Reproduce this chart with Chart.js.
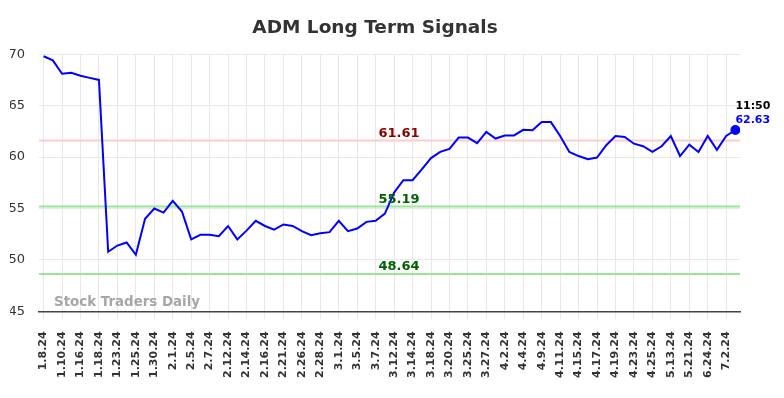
<!DOCTYPE html>
<html>
<head>
<meta charset="utf-8">
<script src="https://cdn.jsdelivr.net/npm/chart.js@4/dist/chart.umd.min.js"></script>
<style>
    html, body { margin: 0; padding: 0; background: #fff; }
    #wrap { width: 784px; height: 398px; }
</style>
</head>
<body>
<div id="wrap"><canvas id="chart"></canvas></div>
<script>
// Tick labels, one for every second point
const tickLabels = [
    '1.8.24', '1.10.24', '1.16.24', '1.18.24', '1.23.24', '1.25.24', '1.30.24',
    '2.1.24', '2.5.24', '2.7.24', '2.12.24', '2.14.24', '2.16.24', '2.21.24',
    '2.26.24', '2.28.24', '3.1.24', '3.5.24', '3.7.24', '3.12.24', '3.14.24',
    '3.18.24', '3.20.24', '3.25.24', '3.27.24', '4.2.24', '4.4.24', '4.9.24',
    '4.11.24', '4.15.24', '4.17.24', '4.19.24', '4.23.24', '4.25.24', '5.13.24',
    '5.21.24', '6.24.24', '7.2.24',
];

// Closing prices
const prices = [
    69.8, 69.4, 68.1, 68.2, 67.9, 67.7, 67.5, 50.8, 51.4, 51.7,
    50.5, 54.0, 55.0, 54.6, 55.75, 54.7, 52.0, 52.45, 52.45, 52.3,
    53.3, 52.0, 52.85, 53.8, 53.3, 52.95, 53.45, 53.3, 52.8, 52.4,
    52.6, 52.7, 53.8, 52.8, 53.05, 53.7, 53.8, 54.5, 56.55, 57.75,
    57.75, 58.8, 59.9, 60.5, 60.8, 61.9, 61.9, 61.35, 62.45, 61.8,
    62.1, 62.1, 62.65, 62.6, 63.4, 63.4, 62.05, 60.5, 60.1, 59.8,
    59.95, 61.15, 62.05, 61.95, 61.3, 61.05, 60.5, 61.05, 62.05, 60.1,
    61.2, 60.5, 62.05, 60.7, 62.05, 62.63,
];

// Signal levels
const levelValues = [61.61, 55.19, 48.64];
const levelColors = ['#ffcccc', '#99e699', '#99e699'];
const levelTextColors = ['#8b0000', '#006400', '#006400'];

const lastTime = '11:50';

const points = prices.map((v, i) => ({x: i, y: v}));
const lastIndex = prices.length - 1;

const pluginSignals = {
    id: 'signals',
    beforeDatasetsDraw: function(chart) {
        'use strict';
        const ctx = chart.ctx;
        const area = chart.chartArea;
        const y = chart.scales.y;
        ctx.save();
        // watermark
        ctx.font = 'bold 13.4px "DejaVu Sans"';
        ctx.fillStyle = '#a6a6a6';
        ctx.textAlign = 'left';
        ctx.textBaseline = 'middle';
        ctx.fillText('Stock Traders Daily', 54, area.bottom - 9);
        // level lines
        ctx.lineWidth = 2;
        for (let i = 0; i < levelValues.length; ++i) {
            const py = y.getPixelForValue(levelValues[i]);
            ctx.strokeStyle = levelColors[i];
            ctx.beginPath();
            ctx.moveTo(area.left, py);
            ctx.lineTo(area.right, py);
            ctx.stroke();
        }
        ctx.restore();
    },
    afterDatasetsDraw: function(chart) {
        'use strict';
        const ctx = chart.ctx;
        const y = chart.scales.y;
        const x = chart.scales.x;
        ctx.save();
        ctx.font = 'bold 13px "DejaVu Sans"';
        ctx.textAlign = 'center';
        ctx.textBaseline = 'middle';
        for (let i = 0; i < levelValues.length; ++i) {
            const py = y.getPixelForValue(levelValues[i]);
            ctx.fillStyle = levelTextColors[i];
            ctx.fillText(levelValues[i].toFixed(2), 399, py - 7);
        }
        // last value
        const lx = x.getPixelForValue(lastIndex);
        const ly = y.getPixelForValue(prices[lastIndex]);
        ctx.font = 'bold 11px "DejaVu Sans"';
        ctx.textAlign = 'left';
        ctx.fillStyle = '#000';
        ctx.fillText(lastTime, lx, ly - 24);
        ctx.fillStyle = '#0000ff';
        ctx.fillText(prices[lastIndex].toFixed(2), lx, ly - 10);
        ctx.restore();
    },
};

new Chart(document.getElementById('chart'), {
    type: 'line',
    data: {
        datasets: [{
            data: points,
            borderColor: '#0000ff',
            backgroundColor: '#0000ff',
            borderWidth: 2,
            tension: 0,
            pointRadius: (c) => (c.dataIndex === lastIndex ? 4 : 0),
            pointHoverRadius: 0,
        }],
    },
    options: {
        responsive: true,
        maintainAspectRatio: false,
        animation: false,
        layout: {padding: {left: 10, right: 44, top: 0, bottom: 8}},
        plugins: {
            legend: {display: false},
            tooltip: {enabled: false},
            title: {
                display: true,
                text: 'ADM Long Term Signals',
                color: '#333',
                font: {family: '"DejaVu Sans"', size: 18.5, weight: 'bold'},
                padding: {top: 17, bottom: 15},
            },
        },
        scales: {
            x: {
                type: 'linear',
                min: -0.5,
                max: lastIndex + 0.5,
                afterBuildTicks: (scale) => {
                    scale.ticks = tickLabels.map((l, i) => ({value: i * 2}));
                },
                grid: {color: '#e8e8e8', drawTicks: true, tickLength: 8},
                border: {color: '#444', width: 1.5},
                ticks: {
                    autoSkip: false,
                    maxRotation: 90,
                    minRotation: 90,
                    padding: 12,
                    color: '#333',
                    font: {family: '"DejaVu Sans"', size: 11, weight: 'bold'},
                    callback: (v) => tickLabels[Math.round(v / 2)],
                },
            },
            y: {
                min: 45,
                max: 70,
                afterFit: (scale) => {
                    scale.width = 29;
                },
                grid: {color: '#e8e8e8', drawTicks: false},
                border: {display: false},
                ticks: {
                    stepSize: 5,
                    padding: 14,
                    color: '#333',
                    font: {family: '"DejaVu Sans"', size: 13},
                },
            },
        },
    },
    plugins: [pluginSignals],
});
</script>
</body>
</html>
